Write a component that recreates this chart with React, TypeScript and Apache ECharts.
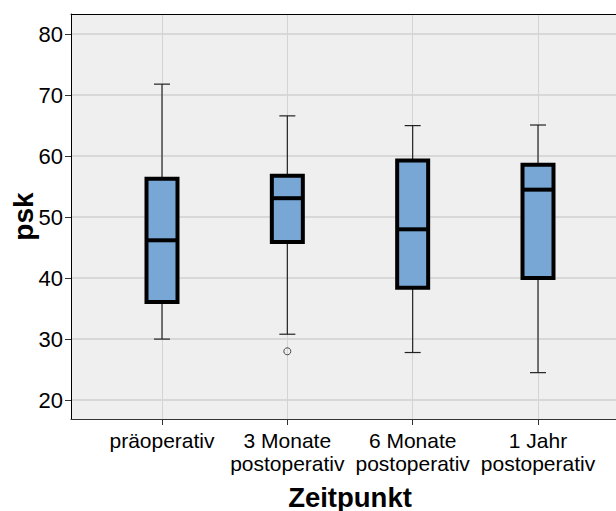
import React, { useEffect, useRef } from "react";
import * as echarts from "echarts";

const categories = ["präoperativ", "3 Monate\npostoperativ", "6 Monate\npostoperativ", "1 Jahr\npostoperativ"];
const lowWhisker = [30.0, 30.8, 27.8, 24.5];
const q1 = [36.1, 45.9, 38.4, 40.0];
const median = [46.2, 53.1, 48.0, 54.5];
const q3 = [56.3, 56.8, 59.3, 58.6];
const highWhisker = [71.8, 66.6, 65.0, 65.1];
const outliers = [[1, 28.0]];
const yTicks = [20, 30, 40, 50, 60, 70, 80];

const Y_MIN = 16.9;
const Y_MAX = 83.3;
const FONT = "'Liberation Sans', Arial, sans-serif";

export default function App() {
  const ref = useRef<HTMLDivElement>(null);
  useEffect(() => {
    if (!ref.current) return;
    const chart = echarts.init(ref.current, null, { renderer: "svg" });
    const boxData = categories.map((_, i) => [i, lowWhisker[i], q1[i], median[i], q3[i], highWhisker[i]]);
    const option: any = {
      animation: false,
      grid: [
        { left: 71, top: 14, right: -1, bottom: 92, show: true, backgroundColor: "#efefef", borderWidth: 0, containLabel: false, outerBoundsMode: "none" },
        { left: 162, top: 14, right: 78, bottom: 92, show: false, containLabel: false, outerBoundsMode: "none" },
      ],
      xAxis: [
        {
          gridIndex: 0, type: "value", min: 0, max: 1, position: "bottom",
          axisLine: { show: true, lineStyle: { color: "#333", width: 1 } },
          axisTick: { show: false }, axisLabel: { show: false }, splitLine: { show: false },
        },
        {
          gridIndex: 0, type: "value", min: 0, max: 1, position: "top",
          axisLine: { show: true, lineStyle: { color: "#000", width: 1 } },
          axisTick: { show: false }, axisLabel: { show: false }, splitLine: { show: false },
        },
        {
          gridIndex: 1, type: "category", data: categories, boundaryGap: false,
          axisLine: { show: false },
          axisTick: { show: true, length: 6, interval: 0, lineStyle: { color: "#333" } },
          axisLabel: { show: true, interval: 0, margin: 10, color: "#000", fontSize: 21, fontFamily: FONT, lineHeight: 23 },
          splitLine: { show: true, interval: 0, lineStyle: { color: "#d4d4d4", width: 1 } },
          name: "Zeitpunkt", nameLocation: "middle", nameGap: 64,
          nameTextStyle: { color: "#000", fontSize: 27.5, fontWeight: "bold", fontFamily: FONT },
        },
      ],
      yAxis: [
        {
          gridIndex: 0, type: "value", min: Y_MIN, max: Y_MAX,
          axisLine: { show: true, lineStyle: { color: "#000", width: 1 } },
          axisTick: { show: true, length: 6, customValues: yTicks, lineStyle: { color: "#333" } },
          axisLabel: { show: true, customValues: yTicks, margin: 8, color: "#000", fontSize: 22, fontFamily: FONT },
          splitLine: { show: true, lineStyle: { color: "#d0d0d0", width: 1.5 } },
          name: "psk", nameLocation: "middle", nameGap: 34, nameMoveOverlap: false,
          nameTextStyle: { color: "#000", fontSize: 28, fontWeight: "bold", fontFamily: FONT },
        },
        {
          gridIndex: 1, type: "value", min: Y_MIN, max: Y_MAX, show: false,
          splitLine: { show: false },
        },
      ],
      series: [
        {
          type: "custom",
          xAxisIndex: 2,
          yAxisIndex: 1,
          clip: false,
          data: boxData,
          encode: { x: 0, y: [1, 2, 3, 4, 5] },
          renderItem: (params: any, api: any) => {
            const idx = api.value(0);
            const pLow = api.coord([idx, api.value(1)]);
            const pQ1 = api.coord([idx, api.value(2)]);
            const pMed = api.coord([idx, api.value(3)]);
            const pQ3 = api.coord([idx, api.value(4)]);
            const pHigh = api.coord([idx, api.value(5)]);
            const cx = pMed[0];
            const halfBox = 15.5;
            const halfCap = 8;
            const wStyle = { stroke: "#222", lineWidth: 1.2 };
            return {
              type: "group",
              children: [
                { type: "line", shape: { x1: cx, y1: pQ3[1], x2: cx, y2: pHigh[1] }, style: wStyle },
                { type: "line", shape: { x1: cx, y1: pQ1[1], x2: cx, y2: pLow[1] }, style: wStyle },
                { type: "line", shape: { x1: cx - halfCap, y1: pHigh[1], x2: cx + halfCap, y2: pHigh[1] }, style: wStyle },
                { type: "line", shape: { x1: cx - halfCap, y1: pLow[1], x2: cx + halfCap, y2: pLow[1] }, style: wStyle },
                {
                  type: "rect",
                  shape: { x: cx - halfBox, y: pQ3[1], width: halfBox * 2, height: pQ1[1] - pQ3[1] },
                  style: { fill: "#79a7d5", stroke: "#000", lineWidth: 4 },
                },
                {
                  type: "line",
                  shape: { x1: cx - halfBox, y1: pMed[1], x2: cx + halfBox, y2: pMed[1] },
                  style: { stroke: "#000", lineWidth: 4 },
                },
              ],
            };
          },
        },
        {
          type: "scatter",
          xAxisIndex: 2,
          yAxisIndex: 1,
          data: outliers,
          symbol: "circle",
          symbolSize: 7,
          itemStyle: { color: "rgba(0,0,0,0)", borderColor: "#222", borderWidth: 1 },
        },
      ],
    };
    chart.setOption(option);
    return () => chart.dispose();
  }, []);
  return <div ref={ref} style={{ width: 616, height: 511, position: "absolute", left: 0, top: 0 }} />;
}
